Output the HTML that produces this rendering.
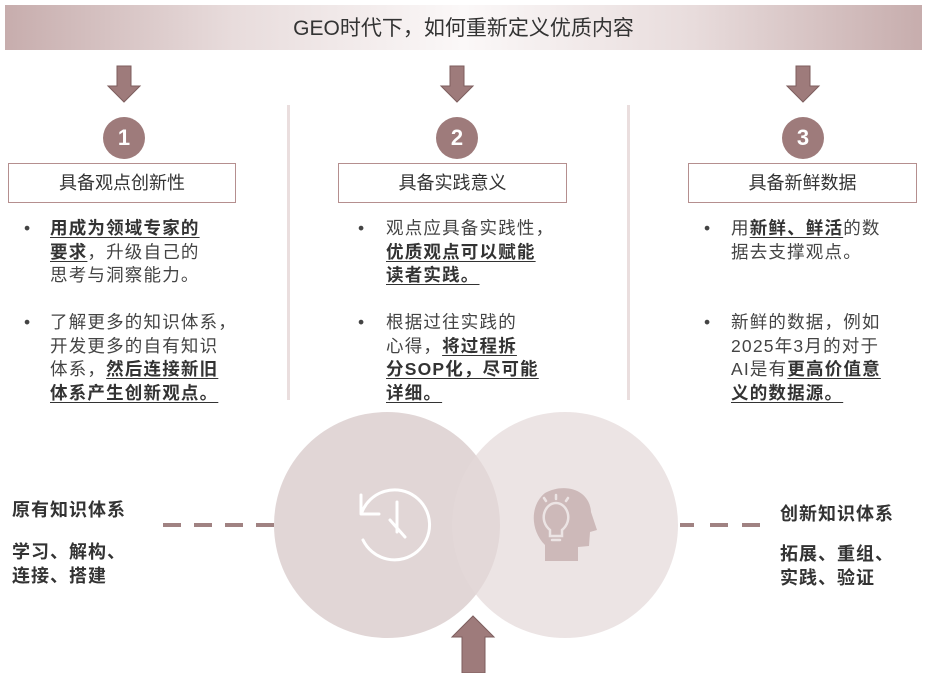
<!DOCTYPE html>
<html><head><meta charset="utf-8"><style>
*{margin:0;padding:0;box-sizing:border-box}
body{width:941px;height:673px;background:#fff;position:relative;overflow:hidden;font-family:"Liberation Sans","Noto Sans CJK SC",sans-serif;color:#333}
.a{position:absolute}
.hdr{left:5px;top:5px;width:917px;height:45px;background:linear-gradient(90deg,#c7adad 0%,#e8dcdc 25%,#fbf8f8 50%,#e8dcdc 75%,#c7adad 100%);font-size:21px;text-align:center;line-height:47px;color:#333}
.num{width:42px;height:42px;border-radius:50%;background:#9e7b7b;color:#fff;font-weight:bold;font-size:22px;text-align:center;line-height:42px}
.box{height:40px;border:1.5px solid #b58f8f;font-size:18px;text-align:center;line-height:38px;background:#fff}
.div{width:3px;background:#eadede;top:105px;height:295px}
.t{font-size:17.5px;line-height:23.6px;letter-spacing:1.2px;color:#444}
.t b{font-weight:bold;color:#333;text-decoration:underline;text-underline-offset:3px}
.lab{font-size:18px;font-weight:bold;color:#333;letter-spacing:1px}
.dash{height:4px;background:#a08282}
</style></head><body>
<div class="a hdr">GEO时代下，如何重新定义优质内容</div>

<svg class="a" style="left:0;top:0" width="941" height="673">
<g fill="#9e7b7b" stroke="#7d5e5e" stroke-width="1">
<polygon points="117,66 131,66 131,86 140,86 124,102 108,86 117,86"/>
<polygon points="450,66 464,66 464,86 473,86 457,102 441,86 450,86"/>
<polygon points="796,66 810,66 810,86 819,86 803,102 787,86 796,86"/>
</g>
<circle cx="387" cy="525" r="113" fill="#dccfcf" opacity="0.85"/>
<circle cx="565" cy="525" r="113" fill="#e4d9d9" opacity="0.7"/>
<g fill="none" stroke="#fff" stroke-width="3" stroke-linecap="round">
<path d="M362 512 A35 35 0 1 1 363 540"/>
<line x1="361" y1="495" x2="361" y2="514"/>
<line x1="362" y1="514" x2="379" y2="514"/>
<line x1="397" y1="502" x2="397" y2="532"/>
<line x1="390" y1="520" x2="405" y2="537"/>
</g>
<path d="M545 493 C565 482 590 490 591 512 L597 530 L590 532 L589 546 L578 547 L578 561 L545 561 L545 545 C530 530 530 505 545 493Z" fill="#cdb9b9"/>
<g fill="none" stroke="#ece4e4" stroke-width="2.5" stroke-linecap="round">
<path d="M550 530 C538 520 545 503 556 503 C567 503 574 520 562 530 L562 536 L550 536Z"/>
<line x1="552" y1="540" x2="560" y2="540"/>
<line x1="556" y1="495" x2="556" y2="499"/>
<line x1="544" y1="498" x2="546" y2="501"/>
<line x1="568" y1="498" x2="566" y2="501"/>
</g>
<polygon points="473,616 494,637 485,637 485,673 462,673 462,637 452,637" fill="#9e7b7b" stroke="#7d5e5e" stroke-width="1"/>
</svg>

<div class="a div" style="left:287px"></div>
<div class="a div" style="left:627px"></div>

<div class="a num" style="left:103px;top:117px">1</div>
<div class="a num" style="left:436px;top:117px">2</div>
<div class="a num" style="left:782px;top:117px">3</div>

<div class="a box" style="left:8px;top:163px;width:228px">具备观点创新性</div>
<div class="a box" style="left:338px;top:163px;width:229px">具备实践意义</div>
<div class="a box" style="left:688px;top:163px;width:229px">具备新鲜数据</div>

<div class="a t" style="left:24px;top:217px">•</div>
<div class="a t" style="left:50px;top:217px;width:210px"><b>用成为领域专家的</b><br><b>要求</b>，升级自己的<br>思考与洞察能力。</div>
<div class="a t" style="left:24px;top:311px">•</div>
<div class="a t" style="left:50px;top:311px;width:220px">了解更多的知识体系，<br>开发更多的自有知识<br>体系，<b>然后连接新旧</b><br><b>体系产生创新观点。</b></div>

<div class="a t" style="left:358px;top:217px">•</div>
<div class="a t" style="left:386px;top:217px;width:210px">观点应具备实践性，<br><b>优质观点可以赋能</b><br><b>读者实践。</b></div>
<div class="a t" style="left:358px;top:311px">•</div>
<div class="a t" style="left:386px;top:311px;width:210px">根据过往实践的<br>心得，<b>将过程拆</b><br><b>分SOP化，尽可能</b><br><b>详细。</b></div>

<div class="a t" style="left:704px;top:217px">•</div>
<div class="a t" style="left:731px;top:217px;width:210px">用<b>新鲜、鲜活</b>的数<br>据去支撑观点。</div>
<div class="a t" style="left:704px;top:311px">•</div>
<div class="a t" style="left:731px;top:311px;width:210px">新鲜的数据，例如<br>2025年3月的对于<br>AI是有<b>更高价值意</b><br><b>义的数据源。</b></div>

<div class="a lab" style="left:12px;top:496px">原有知识体系</div>
<div class="a lab" style="left:12px;top:540px;line-height:24px">学习、解构、<br>连接、搭建</div>
<div class="a dash" style="left:163px;top:523px;width:18px"></div>
<div class="a dash" style="left:194px;top:523px;width:18px"></div>
<div class="a dash" style="left:225px;top:523px;width:18px"></div>
<div class="a dash" style="left:256px;top:523px;width:18px"></div>

<div class="a dash" style="left:680px;top:523px;width:14px"></div>
<div class="a dash" style="left:710px;top:523px;width:18px"></div>
<div class="a dash" style="left:742px;top:523px;width:18px"></div>
<div class="a lab" style="left:780px;top:500px">创新知识体系</div>
<div class="a lab" style="left:780px;top:542px;line-height:24px">拓展、重组、<br>实践、验证</div>
</body></html>
